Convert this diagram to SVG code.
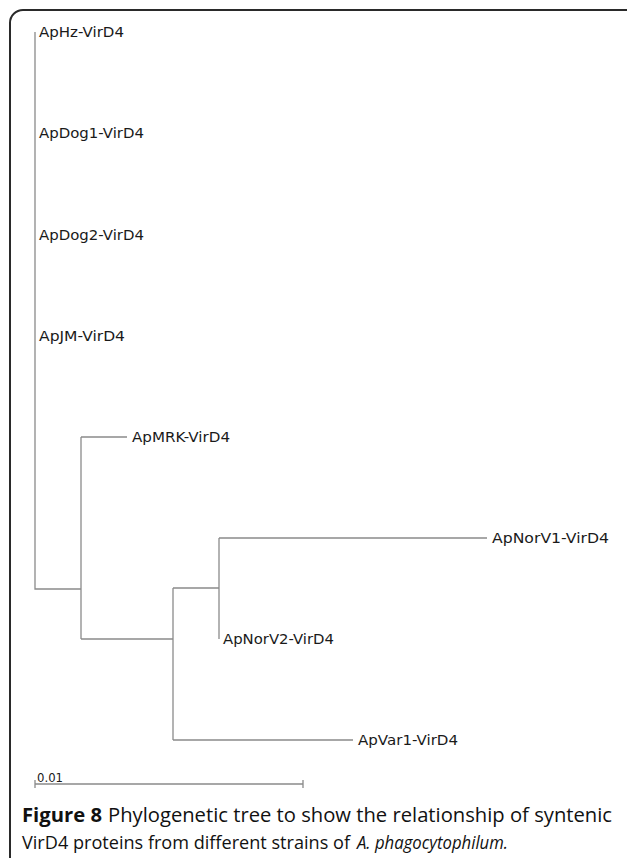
<svg xmlns="http://www.w3.org/2000/svg" width="627" height="858" viewBox="0 0 627 858">
<style>
.br{stroke:#8a8a8a;stroke-width:1.3;fill:none}
.lb{font-family:"DejaVu Sans",Verdana,sans-serif;font-size:14px;fill:#1a1a1a}
.cap{font-family:"Open Sans","Liberation Sans",sans-serif;font-size:19.5px;fill:#111}
.cap2{font-family:"Open Sans","Liberation Sans",sans-serif;font-size:18.5px;fill:#111}
</style>
<rect width="627" height="858" fill="#fff"/>
<path d="M10,860 V23 A13,13 0 0 1 23,10 H640" fill="none" stroke="#2a2a2a" stroke-width="2"/>
<g id="connectors">
<path class="br" d="M35,32 V589 H81"/>
<path class="br" d="M81,437 V639"/>
<path class="br" d="M81,437 H127"/>
<path class="br" d="M81,639 H173"/>
<path class="br" d="M173,588 V740"/>
<path class="br" d="M173,588 H219"/>
<path class="br" d="M219,538 V639"/>
<path class="br" d="M219,538 H487"/>
<path class="br" d="M173,740 H353"/>
</g>
<g id="ApHz"><text class="lb" x="39" y="37" textLength="85" lengthAdjust="spacingAndGlyphs">ApHz-VirD4</text></g>
<g id="ApDog1"><text class="lb" x="39" y="138" textLength="105" lengthAdjust="spacingAndGlyphs">ApDog1-VirD4</text></g>
<g id="ApDog2"><text class="lb" x="39" y="240" textLength="105" lengthAdjust="spacingAndGlyphs">ApDog2-VirD4</text></g>
<g id="ApJM"><text class="lb" x="39" y="341" textLength="86" lengthAdjust="spacingAndGlyphs">ApJM-VirD4</text></g>
<g id="ApMRK"><text class="lb" x="132" y="442" textLength="98" lengthAdjust="spacingAndGlyphs">ApMRK-VirD4</text></g>
<g id="ApNorV1"><text class="lb" x="492" y="543" textLength="117" lengthAdjust="spacingAndGlyphs">ApNorV1-VirD4</text></g>
<g id="ApNorV2"><text class="lb" x="223" y="644" textLength="111" lengthAdjust="spacingAndGlyphs">ApNorV2-VirD4</text></g>
<g id="ApVar1"><text class="lb" x="358" y="745" textLength="100" lengthAdjust="spacingAndGlyphs">ApVar1-VirD4</text></g>
<g id="scale">
<path class="br" d="M35,784 H303 M35,780 V788 M303,780 V788"/>
<text class="lb" x="37" y="782" style="font-size:12px" textLength="26" lengthAdjust="spacingAndGlyphs">0.01</text>
</g>
<g id="caption">
<text class="cap" x="22" y="822" font-weight="bold" textLength="80" lengthAdjust="spacingAndGlyphs">Figure 8</text>
<text class="cap" x="108" y="822" textLength="504" lengthAdjust="spacingAndGlyphs">Phylogenetic tree to show the relationship of syntenic</text>
<text class="cap2" x="22" y="849" textLength="328" lengthAdjust="spacingAndGlyphs">VirD4 proteins from different strains of</text>
<text class="cap2" x="357" y="849" font-style="italic" textLength="151" lengthAdjust="spacingAndGlyphs">A. phagocytophilum.</text>
</g>
</svg>
